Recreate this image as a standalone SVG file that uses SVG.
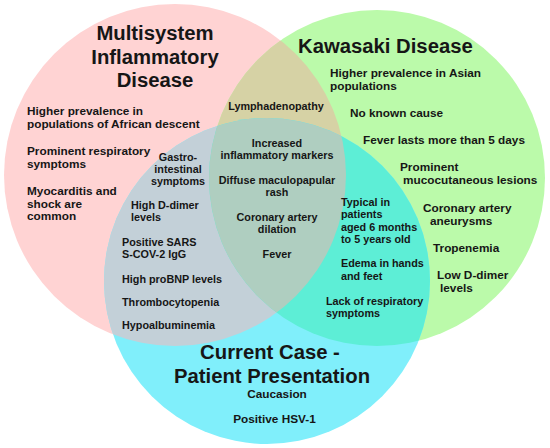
<svg xmlns="http://www.w3.org/2000/svg" width="550" height="448" viewBox="0 0 550 448">
<style>
text{font-family:"Liberation Sans",Arial,Helvetica,sans-serif;font-weight:bold;fill:#161616}
.t{font-size:20.3px}
.b{font-size:11.8px}
.s{font-size:10.8px}
.m{text-anchor:middle}
</style>
<defs>
<clipPath id="cpPink"><circle cx="175" cy="175" r="171"/></clipPath>
<clipPath id="cpGreen"><circle cx="377" cy="178" r="168"/></clipPath>
</defs>
<g id="regions">
<circle cx="175" cy="175" r="171" fill="#FFD3D3"/>
<circle cx="377" cy="178" r="168" fill="#BBFAAA"/>
<circle cx="267" cy="281" r="163" fill="#80EFFB"/>
<circle cx="377" cy="178" r="168" fill="#D6D2A5" clip-path="url(#cpPink)"/>
<circle cx="267" cy="281" r="163" fill="#C3D0D8" clip-path="url(#cpPink)"/>
<circle cx="267" cy="281" r="163" fill="#5DEED6" clip-path="url(#cpGreen)"/>
<g clip-path="url(#cpPink)"><circle cx="267" cy="281" r="163" fill="#AFCEC0" clip-path="url(#cpGreen)"/></g>
</g>
<g id="node-mis">
<text class="t m" x="155" y="40">Multisystem</text>
<text class="t m" x="155" y="63.5">Inflammatory</text>
<text class="t m" x="155" y="87">Disease</text>
<text class="b" x="27" y="115">Higher prevalence in</text>
<text class="b" x="27" y="127.7">populations of African descent</text>
<text class="b" x="27" y="155">Prominent respiratory</text>
<text class="b" x="27" y="167.7">symptoms</text>
<text class="b" x="27" y="195">Myocarditis and</text>
<text class="b" x="27" y="207.7">shock are</text>
<text class="b" x="27" y="220.4">common</text>
</g>
<g id="node-kawasaki">
<text class="t" x="298" y="53">Kawasaki Disease</text>
<text class="b" x="330" y="77">Higher prevalence in Asian</text>
<text class="b" x="330" y="89.7">populations</text>
<text class="b" x="350" y="117">No known cause</text>
<text class="b" x="363" y="144">Fever lasts more than 5 days</text>
<text class="b" x="400" y="171">Prominent</text>
<text class="b" x="403" y="184">mucocutaneous lesions</text>
<text class="b" x="423" y="212">Coronary artery</text>
<text class="b" x="430" y="225">aneurysms</text>
<text class="b" x="433" y="252">Tropenemia</text>
<text class="b" x="437" y="279">Low D-dimer</text>
<text class="b" x="440" y="292">levels</text>
</g>
<g id="node-current">
<text class="t m" x="270" y="359">Current Case -</text>
<text class="t m" x="272" y="382.5">Patient Presentation</text>
<text class="b m" x="277" y="397.5">Caucasion</text>
<text class="b m" x="274.5" y="423">Positive HSV-1</text>
</g>
<g id="overlap-mis-kawasaki">
<text class="s m" x="276" y="110">Lymphadenopathy</text>
</g>
<g id="overlap-mis-current">
<text class="s m" x="178" y="161">Gastro-</text>
<text class="s m" x="178" y="173">intestinal</text>
<text class="s m" x="178" y="185">symptoms</text>
<text class="s" x="131" y="209">High D-dimer</text>
<text class="s" x="131" y="221">levels</text>
<text class="s" x="122" y="246">Positive SARS</text>
<text class="s" x="122" y="258">S-COV-2 IgG</text>
<text class="s" x="122" y="283">High proBNP levels</text>
<text class="s" x="122" y="306">Thrombocytopenia</text>
<text class="s" x="122" y="329">Hypoalbuminemia</text>
</g>
<g id="overlap-all">
<text class="s m" x="277" y="147">Increased</text>
<text class="s m" x="277" y="159">inflammatory markers</text>
<text class="s m" x="277" y="184">Diffuse maculopapular</text>
<text class="s m" x="277" y="196">rash</text>
<text class="s m" x="277" y="221">Coronary artery</text>
<text class="s m" x="277" y="233">dilation</text>
<text class="s m" x="277" y="258">Fever</text>
</g>
<g id="overlap-kawasaki-current">
<text class="s" x="341" y="206">Typical in</text>
<text class="s" x="341" y="218.4">patients</text>
<text class="s" x="341" y="230.8">aged 6 months</text>
<text class="s" x="341" y="243.2">to 5 years old</text>
<text class="s" x="341" y="267">Edema in hands</text>
<text class="s" x="341" y="279.5">and feet</text>
<text class="s" x="326" y="305">Lack of respiratory</text>
<text class="s" x="326" y="317">symptoms</text>
</g>
</svg>
